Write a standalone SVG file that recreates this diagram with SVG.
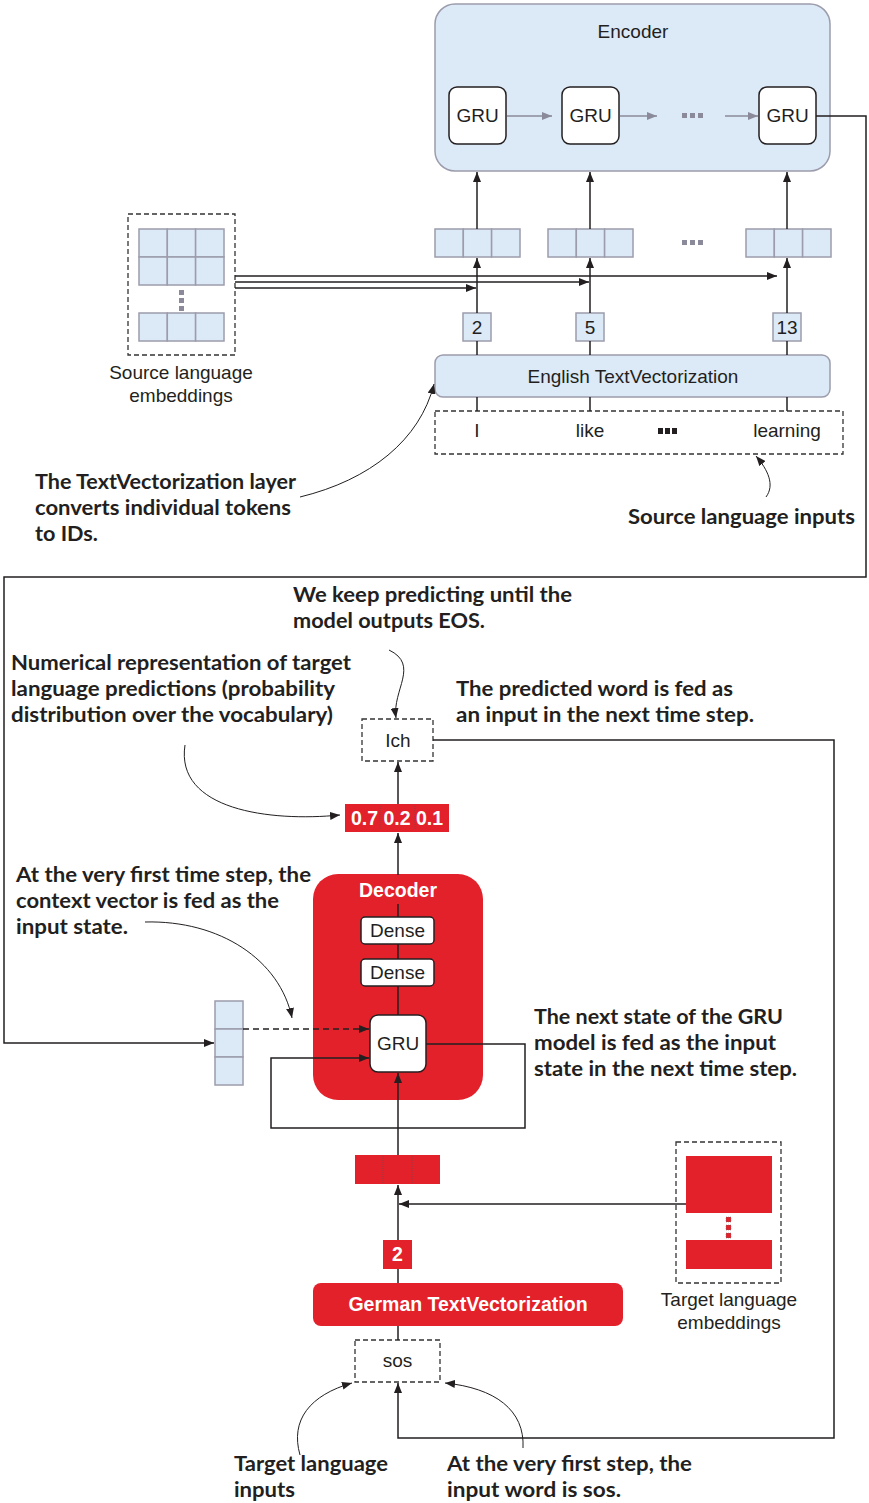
<svg xmlns="http://www.w3.org/2000/svg" width="869" height="1503" viewBox="0 0 869 1503">
<defs>
<style>
.lbl{font-family:"Liberation Sans",Arial,sans-serif;font-size:19px;fill:#231f20;text-anchor:middle}
.wb{font-family:"Liberation Sans",Arial,sans-serif;font-size:19.5px;font-weight:bold;fill:#fff;text-anchor:middle}
.ann{font-family:Lato,"DejaVu Sans",sans-serif;font-size:21px;font-weight:bold;fill:#231f20}
.blue{fill:#dce9f7;stroke:#9c9cac;stroke-width:1.5}
.red{fill:#e3212b}
.wbox{fill:#fff;stroke:#231f20;stroke-width:1.5}
.dash{fill:none;stroke:#333;stroke-width:1.3;stroke-dasharray:5 3}
.ln{fill:none;stroke:#231f20;stroke-width:1.5}
.thin{fill:none;stroke:#231f20;stroke-width:1}
.gry{fill:none;stroke:#8a8a9a;stroke-width:1.5}
.dot{fill:#8a8a9a}
.rdot{fill:#e3212b;stroke:#777;stroke-width:0.5;stroke-dasharray:1 1}
</style>
<marker id="ah" viewBox="0 0 10 8" refX="10" refY="4" markerWidth="10" markerHeight="8" orient="auto" markerUnits="userSpaceOnUse"><path d="M0,0 L10,4 L0,8 z" fill="#231f20"/></marker>
<marker id="ahg" viewBox="0 0 10 8" refX="10" refY="4" markerWidth="12" markerHeight="8" orient="auto" markerUnits="userSpaceOnUse"><path d="M0,0 L10,4 L0,8 z" fill="#8a8a9a"/></marker>
</defs>
<rect width="869" height="1503" fill="#fff"/>

<g id="encoder">
<rect x="435" y="4" width="395" height="167" rx="20" class="blue"/>
<text class="lbl" x="633" y="38">Encoder</text>
</g>
<g id="gru1"><rect x="449" y="87" width="57" height="57" rx="8" class="wbox"/><text class="lbl" x="477.5" y="122">GRU</text></g>
<g id="gru2"><rect x="562" y="87" width="57" height="57" rx="8" class="wbox"/><text class="lbl" x="590.5" y="122">GRU</text></g>
<g id="enc-dots"><rect x="682" y="113" width="5" height="5" class="dot"/><rect x="690" y="113" width="5" height="5" class="dot"/><rect x="698" y="113" width="5" height="5" class="dot"/></g>
<g id="gru3"><rect x="759" y="87" width="57" height="57" rx="8" class="wbox"/><text class="lbl" x="787.5" y="122">GRU</text></g>

<g id="vec1"><rect x="435" y="229" width="28.3" height="28" class="blue"/><rect x="463.3" y="229" width="28.3" height="28" class="blue"/><rect x="491.6" y="229" width="28.4" height="28" class="blue"/></g>
<g id="vec2"><rect x="548" y="229" width="28.3" height="28" class="blue"/><rect x="576.3" y="229" width="28.3" height="28" class="blue"/><rect x="604.6" y="229" width="28.4" height="28" class="blue"/></g>
<g id="vec-dots"><rect x="682" y="240" width="5" height="5" class="dot"/><rect x="690" y="240" width="5" height="5" class="dot"/><rect x="698" y="240" width="5" height="5" class="dot"/></g>
<g id="vec3"><rect x="746" y="229" width="28.3" height="28" class="blue"/><rect x="774.3" y="229" width="28.3" height="28" class="blue"/><rect x="802.6" y="229" width="28.4" height="28" class="blue"/></g>

<g id="id2"><rect x="463" y="313" width="28" height="28" class="blue"/><text class="lbl" x="477" y="334">2</text></g>
<g id="id5"><rect x="576" y="313" width="28" height="28" class="blue"/><text class="lbl" x="590" y="334">5</text></g>
<g id="id13"><rect x="773" y="313" width="28" height="28" class="blue"/><text class="lbl" x="787" y="334">13</text></g>

<g id="english-tv"><rect x="435" y="355" width="395" height="42" rx="8" class="blue"/><text class="lbl" x="633" y="383">English TextVectorization</text></g>

<g id="source-inputs">
<rect x="435" y="411" width="408" height="43" class="dash"/>
<text class="lbl" x="477" y="437">I</text>
<text class="lbl" x="590" y="437">like</text>
<rect x="658" y="428" width="5" height="6" fill="#231f20"/><rect x="665" y="428" width="5" height="6" fill="#231f20"/><rect x="672" y="428" width="5" height="6" fill="#231f20"/>
<text class="lbl" x="787" y="437">learning</text>
</g>

<g id="source-embeddings">
<rect x="128" y="214" width="107" height="141" class="dash"/>
<rect x="139" y="229" width="28.3" height="28" class="blue"/><rect x="167.3" y="229" width="28.3" height="28" class="blue"/><rect x="195.6" y="229" width="28.4" height="28" class="blue"/>
<rect x="139" y="257" width="28.3" height="28" class="blue"/><rect x="167.3" y="257" width="28.3" height="28" class="blue"/><rect x="195.6" y="257" width="28.4" height="28" class="blue"/>
<rect x="179" y="290" width="5" height="5" class="dot"/><rect x="179" y="298" width="5" height="5" class="dot"/><rect x="179" y="306" width="5" height="5" class="dot"/>
<rect x="139" y="313" width="28.3" height="28" class="blue"/><rect x="167.3" y="313" width="28.3" height="28" class="blue"/><rect x="195.6" y="313" width="28.4" height="28" class="blue"/>
<text class="lbl" x="181" y="379">Source language</text>
<text class="lbl" x="181" y="402">embeddings</text>
</g>

<g id="ann-tv" class="ann">
<text x="35" y="489" textLength="261" lengthAdjust="spacingAndGlyphs">The TextVectorization layer</text>
<text x="35" y="515" textLength="256" lengthAdjust="spacingAndGlyphs">converts individual tokens</text>
<text x="35" y="541" textLength="63" lengthAdjust="spacingAndGlyphs">to IDs.</text>
</g>
<g id="ann-src" class="ann"><text x="628" y="524" textLength="227" lengthAdjust="spacingAndGlyphs">Source language inputs</text></g>

<g id="ann-eos" class="ann">
<text x="293" y="602" textLength="279" lengthAdjust="spacingAndGlyphs">We keep predicting until the</text>
<text x="293" y="628" textLength="192" lengthAdjust="spacingAndGlyphs">model outputs EOS.</text>
</g>
<g id="ann-num" class="ann">
<text x="11" y="670" textLength="340" lengthAdjust="spacingAndGlyphs">Numerical representation of target</text>
<text x="11" y="696" textLength="324" lengthAdjust="spacingAndGlyphs">language predictions (probability</text>
<text x="11" y="722" textLength="322" lengthAdjust="spacingAndGlyphs">distribution over the vocabulary)</text>
</g>
<g id="ann-pred" class="ann">
<text x="456" y="696" textLength="277" lengthAdjust="spacingAndGlyphs">The predicted word is fed as</text>
<text x="456" y="722" textLength="298" lengthAdjust="spacingAndGlyphs">an input in the next time step.</text>
</g>

<g id="ich"><rect x="362" y="719" width="71" height="42" class="dash"/><text class="lbl" x="398" y="747">Ich</text></g>

<g id="probs">
<rect x="345" y="804" width="104" height="28" class="red"/>
<line x1="380" y1="806" x2="380" y2="830" stroke="#555" stroke-width="0.6" stroke-dasharray="1 1"/>
<line x1="415" y1="806" x2="415" y2="830" stroke="#555" stroke-width="0.6" stroke-dasharray="1 1"/>
<text class="wb" x="397" y="825">0.7 0.2 0.1</text>
</g>

<g id="ann-ctx" class="ann">
<text x="16" y="882" textLength="295" lengthAdjust="spacingAndGlyphs">At the very first time step, the</text>
<text x="16" y="908" textLength="263" lengthAdjust="spacingAndGlyphs">context vector is fed as the</text>
<text x="16" y="934" textLength="112" lengthAdjust="spacingAndGlyphs">input state.</text>
</g>

<g id="decoder">
<rect x="313" y="874" width="170" height="226" rx="25" class="red"/>
<text class="wb" x="398" y="897">Decoder</text>
</g>
<g id="dense1"><rect x="361" y="917" width="73" height="27" rx="4" class="wbox"/><text class="lbl" x="397.5" y="937">Dense</text></g>
<g id="dense2"><rect x="361" y="959" width="73" height="27" rx="4" class="wbox"/><text class="lbl" x="397.5" y="979">Dense</text></g>
<g id="gru-dec"><rect x="370" y="1015" width="56" height="57" rx="8" class="wbox"/><text class="lbl" x="398" y="1050">GRU</text></g>

<g id="context-vector">
<rect x="215" y="1001" width="28" height="28" class="blue"/>
<rect x="215" y="1029" width="28" height="28" class="blue"/>
<rect x="215" y="1057" width="28" height="28" class="blue"/>
</g>

<g id="ann-next" class="ann">
<text x="534" y="1024" textLength="249" lengthAdjust="spacingAndGlyphs">The next state of the GRU</text>
<text x="534" y="1050" textLength="242" lengthAdjust="spacingAndGlyphs">model is fed as the input</text>
<text x="534" y="1076" textLength="263" lengthAdjust="spacingAndGlyphs">state in the next time step.</text>
</g>

<g id="dec-input-vec">
<rect x="355" y="1155" width="85" height="29" class="red"/>
<line x1="383" y1="1156" x2="383" y2="1183" stroke="#555" stroke-width="0.6" stroke-dasharray="1 1"/>
<line x1="412" y1="1156" x2="412" y2="1183" stroke="#555" stroke-width="0.6" stroke-dasharray="1 1"/>
</g>

<g id="target-embeddings">
<rect x="676" y="1142" width="105" height="141" class="dash"/>
<rect x="686" y="1156" width="86" height="57" class="red"/>
<rect x="726" y="1217" width="5" height="5" class="rdot"/><rect x="726" y="1225" width="5" height="5" class="rdot"/><rect x="726" y="1233" width="5" height="5" class="rdot"/>
<rect x="686" y="1240" width="86" height="29" class="red"/>
<text class="lbl" x="729" y="1306">Target language</text>
<text class="lbl" x="729" y="1329">embeddings</text>
</g>

<g id="id-dec"><rect x="383" y="1240" width="29" height="29" class="red"/><text class="wb" x="397.5" y="1261">2</text></g>

<g id="german-tv"><rect x="313" y="1283" width="310" height="43" rx="8" class="red"/><text class="wb" x="468" y="1311">German TextVectorization</text></g>

<g id="sos"><rect x="355" y="1340" width="85" height="42" class="dash"/><text class="lbl" x="397.5" y="1367">sos</text></g>

<g id="ann-tgt" class="ann">
<text x="234" y="1471" textLength="154" lengthAdjust="spacingAndGlyphs">Target language</text>
<text x="234" y="1497" textLength="61" lengthAdjust="spacingAndGlyphs">inputs</text>
</g>
<g id="ann-sos" class="ann">
<text x="447" y="1471" textLength="245" lengthAdjust="spacingAndGlyphs">At the very first step, the</text>
<text x="447" y="1497" textLength="174" lengthAdjust="spacingAndGlyphs">input word is sos.</text>
</g>

<g id="connectors">
<line class="gry" x1="507" y1="116" x2="552" y2="116" marker-end="url(#ahg)"/>
<line class="gry" x1="620" y1="116" x2="657" y2="116" marker-end="url(#ahg)"/>
<line class="gry" x1="725" y1="116" x2="758" y2="116" marker-end="url(#ahg)"/>
<line class="ln" x1="477" y1="229" x2="477" y2="172" marker-end="url(#ah)"/>
<line class="ln" x1="590" y1="229" x2="590" y2="172" marker-end="url(#ah)"/>
<line class="ln" x1="787" y1="229" x2="787" y2="172" marker-end="url(#ah)"/>
<line class="ln" x1="477" y1="313" x2="477" y2="258" marker-end="url(#ah)"/>
<line class="ln" x1="590" y1="313" x2="590" y2="258" marker-end="url(#ah)"/>
<line class="ln" x1="787" y1="313" x2="787" y2="258" marker-end="url(#ah)"/>
<line class="ln" x1="477" y1="355" x2="477" y2="341"/>
<line class="ln" x1="590" y1="355" x2="590" y2="341"/>
<line class="ln" x1="787" y1="355" x2="787" y2="341"/>
<line class="ln" x1="477" y1="411" x2="477" y2="397"/>
<line class="ln" x1="590" y1="411" x2="590" y2="397"/>
<line class="ln" x1="787" y1="411" x2="787" y2="397"/>
<line class="ln" x1="235" y1="276" x2="777" y2="276" marker-end="url(#ah)"/>
<line class="ln" x1="235" y1="282" x2="589" y2="282" marker-end="url(#ah)"/>
<line class="ln" x1="235" y1="288" x2="476" y2="288" marker-end="url(#ah)"/>
<polyline class="ln" points="816,116 866,116 866,577 4,577 4,1043 214,1043" marker-end="url(#ah)"/>
<line x1="243" y1="1029" x2="369" y2="1029" fill="none" stroke="#231f20" stroke-width="1.3" stroke-dasharray="6 4" marker-end="url(#ah)"/>
<polyline class="ln" points="426,1044 525,1044 525,1128 271,1128 271,1058 369,1058" marker-end="url(#ah)"/>
<line class="ln" x1="398" y1="904" x2="398" y2="917"/>
<line class="ln" x1="398" y1="944" x2="398" y2="959"/>
<line class="ln" x1="398" y1="986" x2="398" y2="1015"/>
<line class="ln" x1="398" y1="875" x2="398" y2="833" marker-end="url(#ah)"/>
<line class="ln" x1="398" y1="804" x2="398" y2="762" marker-end="url(#ah)"/>
<polyline class="ln" points="433,740 834,740 834,1438 398,1438 398,1383" marker-end="url(#ah)"/>
<line class="ln" x1="398" y1="1155" x2="398" y2="1073" marker-end="url(#ah)"/>
<line class="ln" x1="398" y1="1240" x2="398" y2="1185" marker-end="url(#ah)"/>
<line class="ln" x1="686" y1="1204" x2="399" y2="1204" marker-end="url(#ah)"/>
<line class="ln" x1="398" y1="1283" x2="398" y2="1269"/>
<line class="ln" x1="398" y1="1340" x2="398" y2="1326"/>
<path class="thin" d="M300,497 C370,480 420,440 434,384" marker-end="url(#ah)"/>
<path class="thin" d="M766,497 C775,485 768,470 756,456" marker-end="url(#ah)"/>
<path class="thin" d="M389,650 C420,665 392,690 396,718" marker-end="url(#ah)"/>
<path class="thin" d="M185,745 C175,810 270,822 340,815" marker-end="url(#ah)"/>
<path class="thin" d="M145,922 C220,920 280,960 292,1018" marker-end="url(#ah)"/>
<path class="thin" d="M300,1455 C290,1420 310,1395 352,1383" marker-end="url(#ah)"/>
<path class="thin" d="M523,1448 C525,1410 495,1388 445,1383" marker-end="url(#ah)"/>
</g>
</svg>
